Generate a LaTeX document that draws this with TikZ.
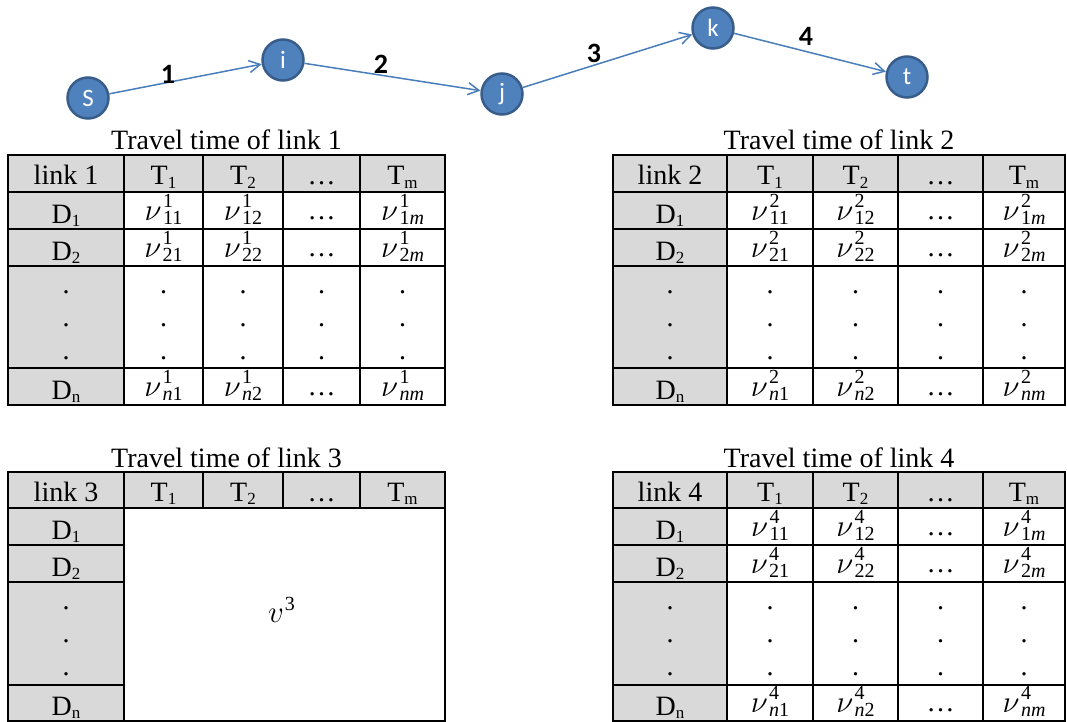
\RequirePackage{fix-cm}
\documentclass[tikz,border=0pt]{standalone}
\usepackage{fontspec}
\setmainfont{Liberation Serif}
\newfontfamily\calibri{Carlito}
\usetikzlibrary{arrows.meta}
\definecolor{nodeblue}{HTML}{4F81BD}
\definecolor{nodeborder}{HTML}{385D8A}
\definecolor{edgeblue}{HTML}{4A7EBB}
\definecolor{cellgray}{HTML}{D9D9D9}
\newcommand\lowsub[1]{\raisebox{-3pt}{\fontsize{17}{17}\selectfont #1}}
\newcommand\scriptnum[1]{{\fontsize{20}{20}\selectfont #1}}
\newcommand\nuv[2]{$\nu$\kern1.5pt\rlap{\raisebox{13pt}{\scriptnum{#1}}}\raisebox{-4pt}{\scriptnum{#2}}}
\newcommand\itm{\textit{m}}
\newcommand\itn{\textit{n}}
\tikzset{
  gnode/.style={circle, fill=nodeblue, draw=nodeborder, line width=2.5pt, minimum size=41pt, inner sep=0pt, text=white, font=\calibri\fontsize{25}{25}\selectfont},
  gedge/.style={draw=edgeblue, line width=1.5pt, -{Straight Barb[length=11pt,width=12pt,line width=1.5pt]}},
  elabel/.style={font=\calibri\bfseries\fontsize{28}{28}\selectfont, inner sep=0pt},
  tabline/.style={line width=2pt, line cap=rect},
  celltext/.style={anchor=base, inner sep=0pt, font=\fontsize{28}{30}\selectfont},
  cellmath/.style={anchor=base, inner sep=0pt, font=\fontsize{31}{33}\selectfont},
  celldot/.style={anchor=center, inner sep=0pt, font=\fontsize{28}{30}\selectfont},
  ttitle/.style={anchor=base, inner sep=0pt, font=\fontsize{28}{30}\selectfont},
}
\def\colsL{{8,124,203,283,360,445}}
\def\colsR{{613,727,813,898,983,1065}}
\def\rowsT{{155,192,229,266,368,405}}
\def\rowsB{{472,508,545,582,685,721}}
\newcommand\traveltable[4]{%
  \pgfmathsetmacro\xa{#1[0]}\pgfmathsetmacro\xb{#1[1]}\pgfmathsetmacro\xc{#1[2]}%
  \pgfmathsetmacro\xd{#1[3]}\pgfmathsetmacro\xe{#1[4]}\pgfmathsetmacro\xf{#1[5]}%
  \pgfmathsetmacro\ya{#2[0]}\pgfmathsetmacro\yb{#2[1]}\pgfmathsetmacro\yc{#2[2]}%
  \pgfmathsetmacro\yd{#2[3]}\pgfmathsetmacro\ye{#2[4]}\pgfmathsetmacro\yf{#2[5]}%
  \pgfmathsetmacro\ca{(\xa+\xb)/2}\pgfmathsetmacro\cb{(\xb+\xc)/2}\pgfmathsetmacro\cc{(\xc+\xd)/2}%
  \pgfmathsetmacro\cd{(\xd+\xe)/2}\pgfmathsetmacro\ce{(\xe+\xf)/2}\pgfmathsetmacro\cm{(\xa+\xf)/2}%
  \fill[cellgray] (\xa,\ya) rectangle (\xf,\yb);
  \fill[cellgray] (\xa,\yb) rectangle (\xb,\yf);
  \node[ttitle] (L#3-title) at (\cm,{\ya-5}) {Travel time of link #3};
  \node[celltext] (L#3-h0) at (\ca,{\yb-7}) {link #3};
  \node[celltext] (L#3-h1) at (\cb,{\yb-7}) {T\lowsub{1}};
  \node[celltext] (L#3-h2) at (\cc,{\yb-7}) {T\lowsub{2}};
  \node[celltext] (L#3-h3) at (\cd,{\yb-7}) {…};
  \node[celltext] (L#3-h4) at (\ce,{\yb-7}) {T\lowsub{m}};
  \node[celltext] (L#3-r1) at (\ca,{\yc-6}) {D\lowsub{1}};
  \node[celltext] (L#3-r2) at (\ca,{\yd-6}) {D\lowsub{2}};
  \node[celltext] (L#3-rn) at (\ca,{\yf-6}) {D\lowsub{n}};
  \foreach \k in {1,2,3} {\node[celldot] (L#3-d0\k) at (\ca,{\yd+33*\k-7}) {.};}
  \ifnum#4=1
    \foreach \cx/\nm in {\cb/1,\cc/2,\cd/3,\ce/4} {
      \foreach \k in {1,2,3} {\node[celldot] (L#3-d\nm\k) at (\cx,{\yd+33*\k-7}) {.};}
    }
    \node[cellmath] (L#3-v11) at (\cb,{\yc-9}) {\nuv{#3}{11}};
    \node[cellmath] (L#3-v12) at (\cc,{\yc-9}) {\nuv{#3}{12}};
    \node[celltext] (L#3-v13) at (\cd,{\yc-10}) {…};
    \node[cellmath] (L#3-v1m) at (\ce,{\yc-9}) {\nuv{#3}{1\itm}};
    \node[cellmath] (L#3-v21) at (\cb,{\yd-9}) {\nuv{#3}{21}};
    \node[cellmath] (L#3-v22) at (\cc,{\yd-9}) {\nuv{#3}{22}};
    \node[celltext] (L#3-v23) at (\cd,{\yd-10}) {…};
    \node[cellmath] (L#3-v2m) at (\ce,{\yd-9}) {\nuv{#3}{2\itm}};
    \node[cellmath] (L#3-vn1) at (\cb,{\yf-9}) {\nuv{#3}{\itn1}};
    \node[cellmath] (L#3-vn2) at (\cc,{\yf-9}) {\nuv{#3}{\itn2}};
    \node[celltext] (L#3-vn3) at (\cd,{\yf-10}) {…};
    \node[cellmath] (L#3-vnm) at (\ce,{\yf-9}) {\nuv{#3}{\itn\itm}};
    \draw[tabline] (\xc,\ya) -- (\xc,\yf) (\xd,\ya) -- (\xd,\yf) (\xe,\ya) -- (\xe,\yf);
    \draw[tabline] (\xa,\yc) -- (\xf,\yc) (\xa,\yd) -- (\xf,\yd) (\xa,\ye) -- (\xf,\ye);
  \else
    \node[cellmath] (L#3-v) at ({(\xb+\xf)/2-3},{(\yb+\yf)/2+8}) {$v$\kern1pt\raisebox{12pt}{\scriptnum{#3}}};
    \draw[tabline] (\xc,\ya) -- (\xc,\yb) (\xd,\ya) -- (\xd,\yb) (\xe,\ya) -- (\xe,\yb);
    \draw[tabline] (\xa,\yc) -- (\xb,\yc) (\xa,\yd) -- (\xb,\yd) (\xa,\ye) -- (\xb,\ye);
  \fi
  \draw[tabline] (\xa,\ya) rectangle (\xf,\yf);
  \draw[tabline] (\xa,\yb) -- (\xf,\yb) (\xb,\ya) -- (\xb,\yf);
}
\begin{document}
\begin{tikzpicture}[x=1pt, y={(0pt,-1pt)}]
  \useasboundingbox (0,0) rectangle (1067,722);
  % path graph
  \node[gnode] (s) at (88,98) {S};
  \node[gnode] (i) at (283,60) {i};
  \node[gnode] (j) at (502,94) {j};
  \node[gnode] (k) at (713,28) {k};
  \node[gnode] (t) at (907,77) {t};
  \draw[gedge] (s) -- (i);
  \draw[gedge] (i) -- (j);
  \draw[gedge] (j) -- (k);
  \draw[gedge] (k) -- (t);
  \node[elabel] (e1) at (168,74) {1};
  \node[elabel] (e2) at (381,64) {2};
  \node[elabel] (e3) at (594,53) {3};
  \node[elabel] (e4) at (806,36) {4};
  % tables
  \traveltable{\colsL}{\rowsT}{1}{1}
  \traveltable{\colsR}{\rowsT}{2}{1}
  \traveltable{\colsL}{\rowsB}{3}{0}
  \traveltable{\colsR}{\rowsB}{4}{1}
\end{tikzpicture}
\end{document}
